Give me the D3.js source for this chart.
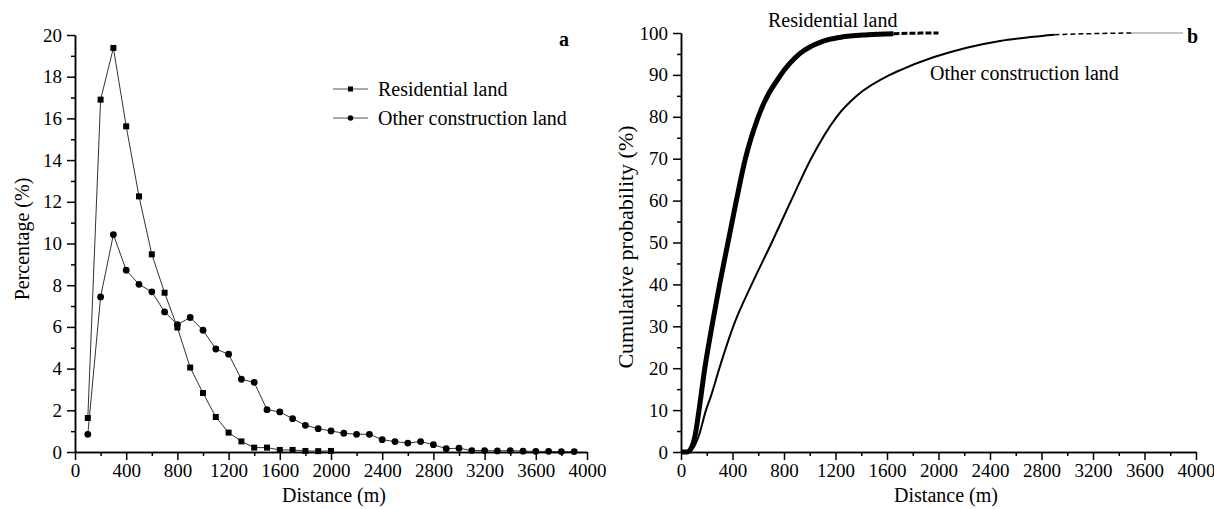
<!DOCTYPE html>
<html>
<head>
<meta charset="utf-8">
<script src="https://cdn.jsdelivr.net/npm/d3@7"></script>
<style>
  body { margin: 0; background: #fff; }
  svg { display: block; }
  text { font-family: "Liberation Serif", "Times New Roman", serif; fill: #000; }
  .axis path, .axis line { stroke: #000; stroke-width: 1.5; }
  .axis text { font-size: 19px; }
</style>
</head>
<body>
<svg id="chart" width="1214" height="509"></svg>
<script>
// panel a: percentage by distance class (m)
const distClasses = [100, 200, 300, 400, 500, 600, 700, 800, 900, 1000, 1100, 1200, 1300, 1400, 1500, 1600, 1700, 1800, 1900, 2000,
  2100, 2200, 2300, 2400, 2500, 2600, 2700, 2800, 2900, 3000, 3100, 3200, 3300, 3400, 3500, 3600, 3700, 3800, 3900];
const residentialPct = [1.63, 16.9, 19.38, 15.62, 12.26, 9.48, 7.64, 5.97, 4.05, 2.83, 1.68, 0.93, 0.51, 0.21, 0.21, 0.1, 0.1, 0.05, 0.04, 0.05];
const otherPct = [0.85, 7.44, 10.43, 8.72, 8.04, 7.68, 6.72, 6.11, 6.45, 5.84, 4.94, 4.69, 3.49, 3.34, 2.03, 1.92, 1.60, 1.28, 1.12, 1.01,
  0.90, 0.85, 0.85, 0.59, 0.50, 0.43, 0.50, 0.35, 0.16, 0.18, 0.07, 0.07, 0.05, 0.07, 0.04, 0.03, 0.03, 0.02, 0.02];

// panel b: cumulative probability (%)
const resCdfDist = [0, 45, 80, 110, 140, 185, 240, 300, 365, 430, 500, 600, 775, 920, 1100, 1240, 1450, 1650, 1800, 2000];
const resCdfPct  = [0, 0, 1, 4, 10, 20, 30, 40, 50, 60, 70, 80, 90, 95, 98, 99, 99.6, 99.85, 99.95, 100];
const otherCdfDist = [0, 40, 83, 140, 194, 230, 298, 406, 549, 705, 855, 1010, 1209, 1365, 1623, 1700, 1960, 2219, 2478, 2736, 2900, 3200, 3500, 3900];
const otherCdfPct  = [0, 0, 0.5, 4, 10, 13.1, 20, 30, 40, 50, 60, 70, 80, 85, 90, 91.1, 94.2, 96.5, 98.1, 99.1, 99.6, 99.85, 100, 100];

const xTicks = d3.range(0, 4001, 400);
const xMinor = d3.range(200, 4000, 400);

const svg = d3.select("#chart");

function drawAxes(x, y, yTicks, yMinor) {
  svg.append("g").attr("class", "axis")
    .attr("transform", "translate(0," + y.range()[0] + ")")
    .call(d3.axisBottom(x).tickValues(xMinor).tickSize(4).tickSizeOuter(0).tickFormat(""));
  svg.append("g").attr("class", "axis")
    .attr("transform", "translate(0," + y.range()[0] + ")")
    .call(d3.axisBottom(x).tickValues(xTicks).tickSize(8).tickPadding(4).tickSizeOuter(0).tickFormat(d3.format("d")));
  svg.append("g").attr("class", "axis")
    .attr("transform", "translate(" + x.range()[0] + ",0)")
    .call(d3.axisLeft(y).tickValues(yMinor).tickSize(4).tickSizeOuter(0).tickFormat(""));
  svg.append("g").attr("class", "axis")
    .attr("transform", "translate(" + x.range()[0] + ",0)")
    .call(d3.axisLeft(y).tickValues(yTicks).tickSize(8).tickPadding(5).tickSizeOuter(0).tickFormat(d3.format("d")));
}

// ---------- panel a ----------
const xa = d3.scaleLinear().domain([0, 4000]).range([75, 587]);
const ya = d3.scaleLinear().domain([0, 20]).range([452, 35]);

drawAxes(xa, ya, d3.range(0, 21, 2), d3.range(1, 20, 2));

const resA = residentialPct.map((v, i) => ({d: distClasses[i], v: v}));
const othA = otherPct.map((v, i) => ({d: distClasses[i], v: v}));
const lineA = d3.line().x(p => xa(p.d)).y(p => ya(p.v));

svg.append("path").datum(resA).attr("d", lineA)
  .attr("fill", "none").attr("stroke", "#333").attr("stroke-width", 1);
svg.append("path").datum(othA).attr("d", lineA)
  .attr("fill", "none").attr("stroke", "#333").attr("stroke-width", 1);

svg.selectAll(".sq").data(resA).enter().append("rect")
  .attr("x", p => xa(p.d) - 3).attr("y", p => ya(p.v) - 3)
  .attr("width", 6).attr("height", 6).attr("fill", "#000");
svg.selectAll(".dot").data(othA).enter().append("circle")
  .attr("cx", p => xa(p.d)).attr("cy", p => ya(p.v)).attr("r", 3.4).attr("fill", "#000");

// legend
const legend = [{name: "Residential land", shape: "sq", y: 89}, {name: "Other construction land", shape: "dot", y: 118}];
legend.forEach(l => {
  svg.append("line").attr("x1", 333).attr("x2", 368).attr("y1", l.y).attr("y2", l.y)
    .attr("stroke", "#555").attr("stroke-width", 1);
  if (l.shape === "sq") {
    svg.append("rect").attr("x", 348).attr("y", l.y - 2.5).attr("width", 5).attr("height", 5).attr("fill", "#000");
  } else {
    svg.append("circle").attr("cx", 350.5).attr("cy", l.y).attr("r", 2.8).attr("fill", "#000");
  }
  svg.append("text").attr("x", 378).attr("y", l.y + 6.5).style("font-size", "20px").text(l.name);
});

svg.append("text").attr("x", 559).attr("y", 46).style("font-size", "20px").style("font-weight", "bold").text("a");

svg.append("text").attr("transform", "translate(29,239) rotate(-90)")
  .attr("text-anchor", "middle").style("font-size", "20px").text("Percentage (%)");
svg.append("text").attr("x", 334).attr("y", 502)
  .attr("text-anchor", "middle").style("font-size", "20px").text("Distance (m)");

// ---------- panel b ----------
const xb = d3.scaleLinear().domain([0, 4000]).range([681, 1196]);
const yb = d3.scaleLinear().domain([0, 100]).range([452, 33]);

drawAxes(xb, yb, d3.range(0, 101, 10), d3.range(5, 100, 10));

const resB = resCdfPct.map((v, i) => ({d: resCdfDist[i], v: v}));
const othB = otherCdfPct.map((v, i) => ({d: otherCdfDist[i], v: v}));
const lineB = d3.line().x(p => xb(p.d)).y(p => yb(p.v)).curve(d3.curveMonotoneX);

// residential: solid thick body, broken tail
svg.append("path").datum(resB.filter(p => p.d <= 1650)).attr("d", lineB)
  .attr("fill", "none").attr("stroke", "#000").attr("stroke-width", 5).attr("stroke-linejoin", "round");
svg.append("path").datum(resB.filter(p => p.d >= 1650)).attr("d", lineB)
  .attr("fill", "none").attr("stroke", "#000").attr("stroke-width", 3).attr("stroke-dasharray", "6,2");

// other construction: thinner body, dashed then faint tail
svg.append("path").datum(othB.filter(p => p.d <= 2900)).attr("d", lineB)
  .attr("fill", "none").attr("stroke", "#000").attr("stroke-width", 2).attr("stroke-linejoin", "round");
svg.append("path").datum(othB.filter(p => p.d >= 2900 && p.d <= 3500)).attr("d", lineB)
  .attr("fill", "none").attr("stroke", "#000").attr("stroke-width", 1.5).attr("stroke-dasharray", "5,3");
svg.append("path").datum(othB.filter(p => p.d >= 3500)).attr("d", lineB)
  .attr("fill", "none").attr("stroke", "#888").attr("stroke-width", 1);

svg.append("text").attr("x", 768).attr("y", 27).style("font-size", "20px").text("Residential land");
svg.append("text").attr("x", 930).attr("y", 80).style("font-size", "20px").text("Other construction land");
svg.append("text").attr("x", 1187).attr("y", 43).style("font-size", "20px").style("font-weight", "bold").text("b");

svg.append("text").attr("transform", "translate(633,247) rotate(-90)")
  .attr("text-anchor", "middle").style("font-size", "22px").text("Cumulative probability (%)");
svg.append("text").attr("x", 946).attr("y", 502)
  .attr("text-anchor", "middle").style("font-size", "20px").text("Distance (m)");
</script>
</body>
</html>
